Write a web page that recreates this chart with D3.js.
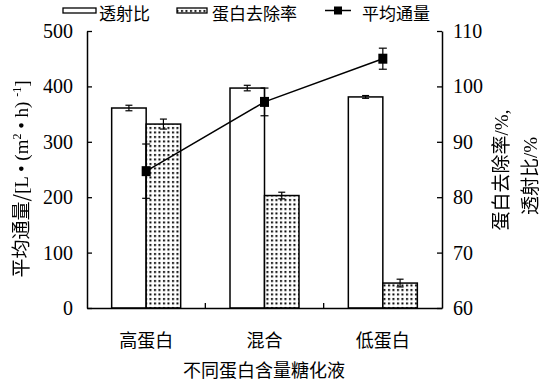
<!DOCTYPE html>
<html><head><meta charset="utf-8">
<script src="https://cdn.jsdelivr.net/npm/d3@7"></script>
<style>body{margin:0;background:#fff}svg{display:block}text{fill:#000}</style>
</head><body>
<script>
const categories = ["高蛋白", "混合", "低蛋白"];
const transmission = [96.1, 99.7, 98.1];
const transmissionErr = [0.5, 0.5, 0.25];
const removal = [93.2, 80.3, 64.5];
const removalErr = [0.9, 0.6, 0.7];
const flux = [247, 372, 450];
const fluxErr = [49, 25, 19];
const leftTicks = [0, 100, 200, 300, 400, 500];
const rightTicks = [60, 70, 80, 90, 100, 110];

const W = 548, H = 382;
const m = {l: 87, r: 442, t: 31, b: 308};
const cjk = "'Noto Sans CJK SC', sans-serif";
const serif = "'Liberation Serif', 'Times New Roman', serif";

const svg = d3.select("body").append("svg").attr("width", W).attr("height", H);
const defs = svg.append("defs");
const pat = defs.append("pattern").attr("id", "dots").attr("patternUnits", "userSpaceOnUse")
  .attr("width", 4.5).attr("height", 4.5);
pat.append("rect").attr("width", 4.5).attr("height", 4.5).attr("fill", "#fff");
pat.append("rect").attr("x", 1).attr("y", 1).attr("width", 2).attr("height", 2).attr("fill", "#000");
defs.append("filter").attr("id", "gray").append("feColorMatrix").attr("type", "saturate").attr("values", 0);

const x0 = d3.scaleBand().domain(categories).range([m.l, m.r]).padding(0);
const barW = 34.5;
const yL = d3.scaleLinear().domain([0, 500]).range([m.b, m.t]);
const yR = d3.scaleLinear().domain([60, 110]).range([m.b, m.t]);
const cx = c => x0(c) + x0.bandwidth() / 2;

// bars
const g = svg.append("g");
categories.forEach((c, i) => {
  const xc = cx(c);
  g.append("rect").attr("x", xc - barW).attr("y", yR(transmission[i])).attr("width", barW)
    .attr("height", yR(60) - yR(transmission[i])).attr("fill", "#fff").attr("stroke", "#000").attr("stroke-width", 1.5);
  g.append("rect").attr("x", xc).attr("y", yR(removal[i])).attr("width", barW)
    .attr("height", yR(60) - yR(removal[i])).attr("fill", "url(#dots)").attr("stroke", "#000").attr("stroke-width", 1.5);
});
function errBar(x, yLo, yHi, cap) {
  g.append("line").attr("x1", x).attr("x2", x).attr("y1", yLo).attr("y2", yHi).attr("stroke", "#000").attr("stroke-width", 1.2);
  [yLo, yHi].forEach(y => g.append("line").attr("x1", x - cap).attr("x2", x + cap).attr("y1", y).attr("y2", y).attr("stroke", "#000").attr("stroke-width", 1.2));
}
categories.forEach((c, i) => {
  const xc = cx(c);
  errBar(xc - barW / 2, yR(transmission[i] - transmissionErr[i]), yR(transmission[i] + transmissionErr[i]), 3.5);
  errBar(xc + barW / 2, yR(removal[i] - removalErr[i]), yR(removal[i] + removalErr[i]), 3.5);
});

// line
const line = d3.line().x((d, i) => cx(categories[i])).y(d => yL(d));
g.append("path").datum(flux).attr("d", line).attr("fill", "none").attr("stroke", "#000").attr("stroke-width", 1.5);
categories.forEach((c, i) => {
  errBar(cx(c), yL(flux[i] - fluxErr[i]), yL(flux[i] + fluxErr[i]), 4);
  g.append("rect").attr("x", cx(c) - 4.5).attr("y", yL(flux[i]) - 5).attr("width", 9).attr("height", 10).attr("fill", "#000");
});

// axes
const axL = svg.append("g").attr("transform", `translate(${m.l},0)`)
  .call(d3.axisLeft(yL).tickValues(leftTicks).tickSizeInner(-5).tickSizeOuter(0).tickPadding(14));
const axR = svg.append("g").attr("transform", `translate(${m.r},0)`)
  .call(d3.axisRight(yR).tickValues(rightTicks).tickSizeInner(-5).tickSizeOuter(0).tickPadding(11));
const axB = svg.append("g").attr("transform", `translate(0,${m.b})`)
  .call(d3.axisBottom(x0).tickSize(0).tickFormat(""));
[1, 2].forEach(k => {
  const xv = m.l + k * x0.bandwidth();
  svg.append("line").attr("x1", xv).attr("x2", xv).attr("y1", m.b).attr("y2", m.b - 5).attr("stroke", "#000").attr("stroke-width", 1.3);
});
[axL, axR, axB].forEach(a => {
  a.selectAll("path.domain").attr("stroke", "#000").attr("stroke-width", 1.5);
  a.selectAll(".tick line").attr("stroke", "#000").attr("stroke-width", 1.3);
  a.selectAll("text").attr("font-family", serif).attr("font-size", 20).attr("fill", "#000");
});

// category labels
categories.forEach(c => {
  svg.append("text").attr("x", cx(c)).attr("y", 347).attr("text-anchor", "middle")
    .attr("font-family", cjk).attr("font-size", 18).attr("fill", "#000").text(c);
});
svg.append("text").attr("x", 264).attr("y", 377).attr("text-anchor", "middle")
  .attr("font-family", cjk).attr("font-size", 18).attr("fill", "#000").text("不同蛋白含量糖化液");

// rotated titles (grayscale filter avoids colour fringes)
const titles = svg.append("g").attr("filter", "url(#gray)");
const lt = titles.append("text").attr("transform", "translate(28,179) rotate(-90)").attr("text-anchor", "middle")
  .attr("font-size", 19).attr("fill", "#000");
lt.append("tspan").attr("font-family", cjk).text("平均通量/");
lt.append("tspan").attr("font-family", serif).text("[L • (m");
lt.append("tspan").attr("font-family", serif).attr("font-size", 12).attr("dy", -7).text("2");
lt.append("tspan").attr("font-family", serif).attr("dy", 7).text(" • h) ");
lt.append("tspan").attr("font-family", serif).attr("font-size", 12).attr("dy", -7).text("-1");
lt.append("tspan").attr("font-family", serif).attr("dy", 7).text("]");

const rt1 = titles.append("text").attr("transform", "translate(508,170) rotate(-90)").attr("text-anchor", "middle").attr("font-size", 19).attr("fill", "#000");
rt1.append("tspan").attr("font-family", cjk).text("蛋白去除率");
rt1.append("tspan").attr("font-family", serif).text("/%,");
const rt2 = titles.append("text").attr("transform", "translate(537,176) rotate(-90)").attr("text-anchor", "middle").attr("font-size", 19).attr("fill", "#000");
rt2.append("tspan").attr("font-family", cjk).text("透射比");
rt2.append("tspan").attr("font-family", serif).text("/%");

// legend
const lg = svg.append("g");
lg.append("rect").attr("x", 63).attr("y", 8).attr("width", 33).attr("height", 5).attr("fill", "#fff").attr("stroke", "#000").attr("stroke-width", 1.3);
lg.append("text").attr("x", 99).attr("y", 20).attr("font-family", cjk).attr("font-size", 17).attr("fill", "#000").text("透射比");
lg.append("rect").attr("x", 177).attr("y", 8).attr("width", 30).attr("height", 5).attr("fill", "url(#dots)").attr("stroke", "#000").attr("stroke-width", 1.3);
lg.append("text").attr("x", 212).attr("y", 20).attr("font-family", cjk).attr("font-size", 17).attr("fill", "#000").text("蛋白去除率");
lg.append("line").attr("x1", 325).attr("x2", 351).attr("y1", 10.5).attr("y2", 10.5).attr("stroke", "#000").attr("stroke-width", 1.5);
lg.append("rect").attr("x", 334).attr("y", 6.5).attr("width", 8).attr("height", 8).attr("fill", "#000");
lg.append("text").attr("x", 362).attr("y", 20).attr("font-family", cjk).attr("font-size", 17).attr("fill", "#000").text("平均通量");
</script>
</body></html>
